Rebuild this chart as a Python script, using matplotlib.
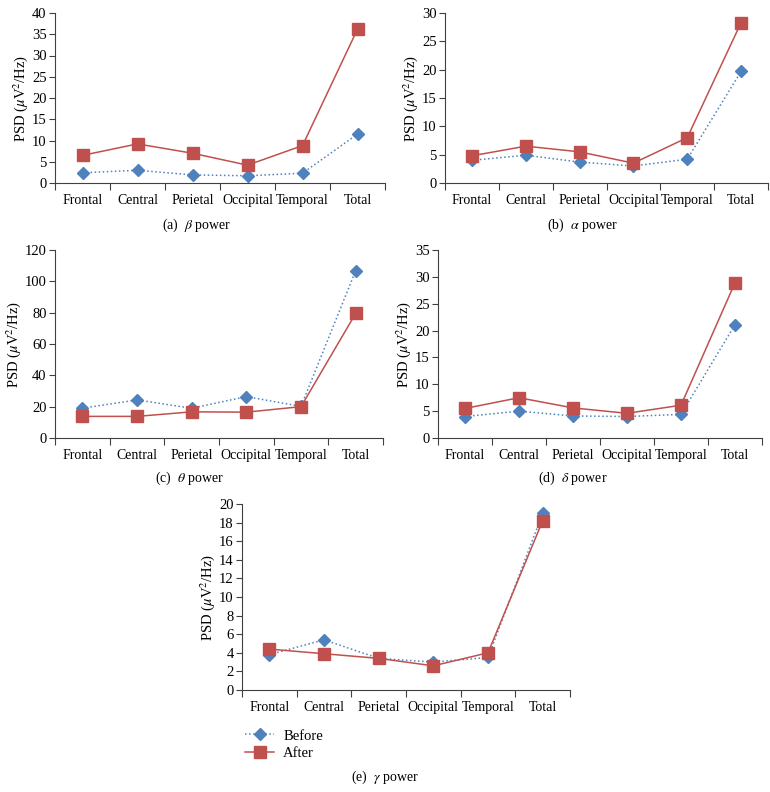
import numpy as np
import matplotlib
matplotlib.use("Agg")
import matplotlib.pyplot as plt

plt.rcParams['font.family'] = ['Liberation Serif', 'DejaVu Serif']
plt.rcParams['mathtext.fontset'] = 'stix'

regions = ['Frontal', 'Central', 'Perietal', 'Occipital', 'Temporal', 'Total']

beta_before = [2.4, 3.0, 1.9, 1.7, 2.3, 11.5]
beta_after = [6.5, 9.2, 7.0, 4.2, 8.8, 36.2]
alpha_before = [4.0, 4.9, 3.7, 3.0, 4.2, 19.7]
alpha_after = [4.8, 6.5, 5.5, 3.5, 8.0, 28.3]
theta_before = [19.0, 24.3, 19.0, 26.4, 20.2, 106.8]
theta_after = [13.8, 13.8, 16.7, 16.5, 20.0, 79.5]
delta_before = [4.0, 5.0, 4.1, 4.0, 4.4, 21.1]
delta_after = [5.5, 7.5, 5.6, 4.6, 6.1, 28.9]
gamma_before = [3.8, 5.4, 3.4, 3.0, 3.5, 19.0]
gamma_after = [4.4, 3.9, 3.4, 2.6, 4.0, 18.2]

blue = '#4F81BD'
red = '#C0504D'

fig = plt.figure(figsize=(7.7, 7.92), dpi=100)

panels = [
    # rect (px), before, after, ymax, ystep, caption, caption xy (px)
    ([55, 13, 385, 183], beta_before, beta_after, 40, 5, r'(a)  $\beta$ power', (197, 225)),
    ([445, 13, 768, 183], alpha_before, alpha_after, 30, 5, r'(b)  $\alpha$ power', (582, 225)),
    ([55, 250, 383, 438], theta_before, theta_after, 120, 20, r'(c)  $\theta$ power', (190, 478)),
    ([438, 250, 762, 438], delta_before, delta_after, 35, 5, r'(d)  $\delta$ power', (573, 478)),
    ([242, 504, 570, 690], gamma_before, gamma_after, 20, 2, r'(e)  $\gamma$ power', (385, 777)),
]

W, H = 770, 792
x = np.arange(len(regions))
for rect, before, after, ymax, ystep, caption, cap in panels:
    x0, y0, x1, y1 = rect
    ax = fig.add_axes([x0 / W, 1 - y1 / H, (x1 - x0) / W, (y1 - y0) / H])
    lb, = ax.plot(x, before, color=blue, linestyle=':', linewidth=1.1,
                  marker='D', markersize=6, markeredgecolor=blue, label='Before')
    la, = ax.plot(x, after, color=red, linestyle='-', linewidth=1.1,
                  marker='s', markersize=8.5, markeredgecolor=red, label='After')
    ax.set_xlim(-0.5, len(regions) - 0.5)
    ax.set_ylim(0, ymax)
    ax.set_yticks(np.arange(0, ymax + 0.1, ystep))
    ax.set_xticks(np.arange(-0.5, len(regions)), minor=False)
    ax.set_xticklabels([])
    ax.set_xticks(x, minor=True)
    ax.set_xticklabels(regions, minor=True)
    ax.tick_params(axis='x', which='minor', length=0, pad=8, labelsize=10)
    ax.tick_params(axis='x', which='major', length=5, direction='out', color='#404040')
    ax.tick_params(axis='y', length=4, direction='out', labelsize=10.5, color='#404040', pad=2)
    for s in ['top', 'right']:
        ax.spines[s].set_visible(False)
    for s in ['left', 'bottom']:
        ax.spines[s].set_color('#404040')
    ax.set_ylabel(r'PSD ($\mu$V$^2$/Hz)', fontsize=10.5, labelpad=1.5)
    fig.text(cap[0] / W, 1 - cap[1] / H, caption, ha='center', va='center', fontsize=10)

fig.legend(handles=[lb, la], loc='upper left', bbox_to_anchor=(238 / W, 1 - 722 / H),
           frameon=False, fontsize=10.5, handlelength=2.0, handletextpad=0.6,
           labelspacing=0.3, borderpad=0)

fig.savefig('out.png', dpi=100)
